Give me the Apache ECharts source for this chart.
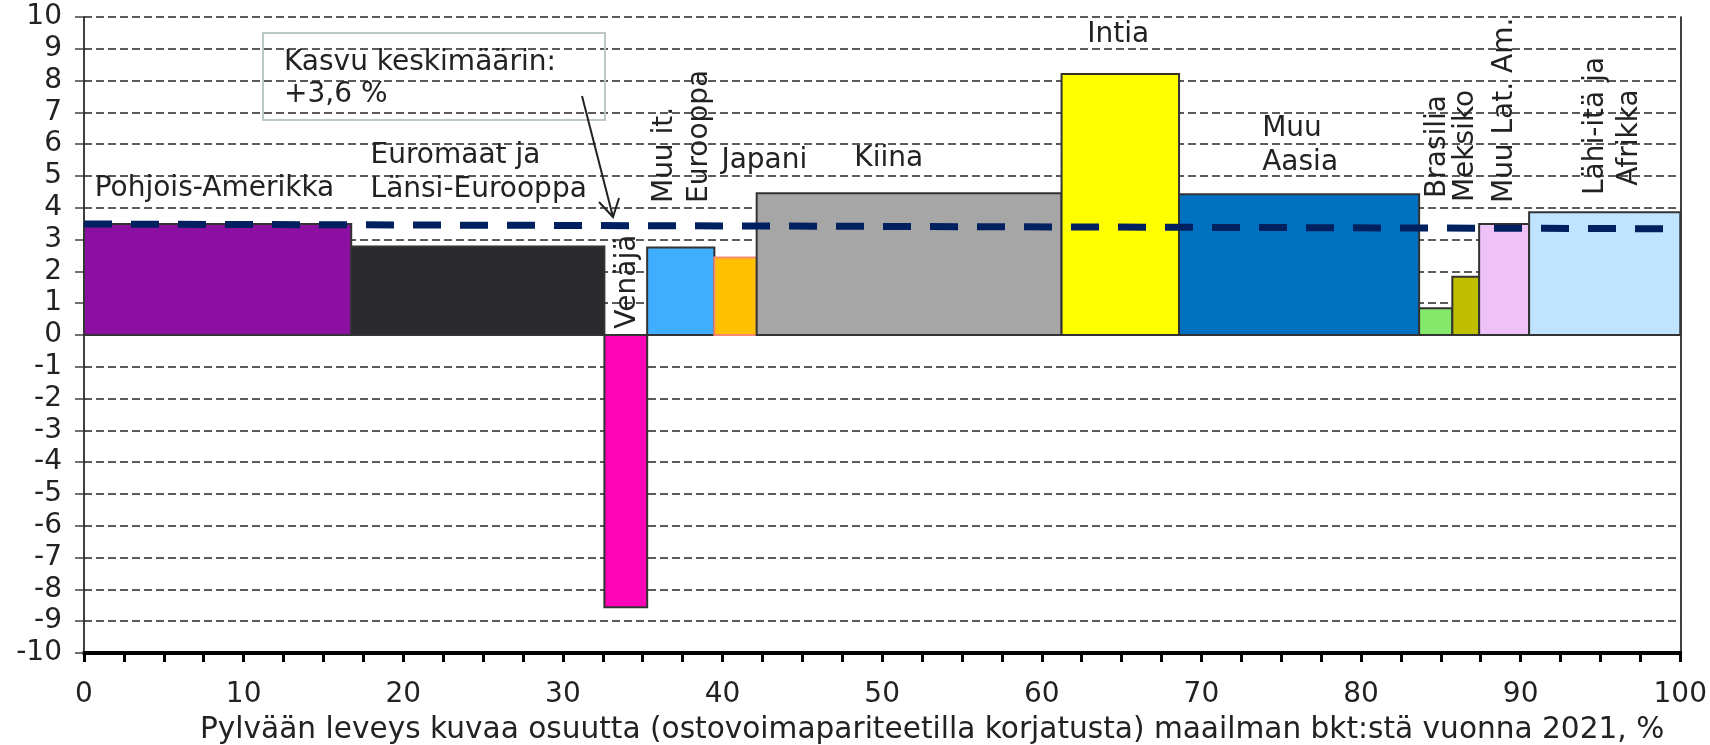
<!DOCTYPE html>
<html>
<head>
<meta charset="utf-8">
<script src="https://cdn.jsdelivr.net/npm/echarts@6/dist/echarts.min.js"></script>
<style>
  html, body { margin: 0; padding: 0; background: #fff; }
  #chart { width: 1710px; height: 745px; }
</style>
</head>
<body>
<div id="chart"></div>
<script>
// alueet, osuus maailman bkt:stä (%) ja kasvu (%)
const regions = ['Pohjois-Amerikka', 'Euromaat ja Länsi-Eurooppa', 'Venäjä', 'Muu it. Eurooppa', 'Japani', 'Kiina',
  'Intia', 'Muu Aasia', 'Brasilia', 'Meksiko', 'Muu Lat. Am.', 'Lähi-itä ja Afrikka'];
const shares = [16.74, 15.86, 2.68, 4.21, 2.65, 19.10, 7.36, 15.04, 2.08, 1.68, 3.13, 9.47];
const growth = [3.49, 2.78, -8.56, 2.75, 2.44, 4.46, 8.21, 4.43, 0.84, 1.83, 3.49, 3.86];
const fills = ['#8B10A1', '#2A2A2F', '#FF05B8', '#40AEFF', '#FFC000', '#A6A6A6',
  '#FFFF00', '#0070C0', '#86E86A', '#BFBF00', '#EEC2F7', '#C0E4FF'];
const strokes = ['#333', '#333', '#333', '#333', '#F6896F', '#333', '#333', '#333', '#333', '#333', '#333', '#333'];
// keskimääräinen kasvu (katkoviiva)
const avgLine = [[0, 3.49], [100, 3.34]];
const xTicks = [0, 10, 20, 30, 40, 50, 60, 70, 80, 90, 100];

// leveät pylväät: [alku, loppu, arvo]
let acc = 0;
const bars = shares.map((w, i) => {
  const row = [acc, acc + w, growth[i]];
  acc += w;
  return row;
});

// tekstien paikat (datakoordinaateissa)
const labelLayout = [
  ['Pohjois-Amerikka', 0.67, 4.59, 0],
  ['Euromaat ja', 17.95, 5.63, 0],
  ['Länsi-Eurooppa', 17.95, 4.56, 0],
  ['Japani', 39.93, 5.47, 0],
  ['Kiina', 48.26, 5.53, 0],
  ['Intia', 62.85, 9.45, 0],
  ['Muu', 73.81, 6.48, 0],
  ['Aasia', 73.81, 5.41, 0],
  ['Venäjä', 34.05, 0.2, 1],
  ['Muu it.', 36.36, 4.15, 1],
  ['Eurooppa', 38.55, 4.15, 1],
  ['Brasilia', 84.83, 4.31, 1],
  ['Meksiko', 86.58, 4.18, 1],
  ['Muu Lat. Am.', 89.02, 4.15, 1],
  ['Lähi-itä ja', 94.72, 4.40, 1],
  ['Afrikka', 96.85, 4.69, 1]
];

const FONT = '"DejaVu Sans", Verdana, sans-serif';
const chart = echarts.init(document.getElementById('chart'));

chart.setOption({
  animation: false,
  grid: { left: 84, right: 29, top: 17, bottom: 92 },
  xAxis: {
    type: 'value',
    min: 0,
    max: 100,
    interval: 2.5,
    axisLine: { onZero: false, lineStyle: { color: '#000', width: 4 } },
    axisTick: { length: 9, lineStyle: { color: '#000', width: 3 } },
    axisLabel: {
      margin: 28,
      fontFamily: FONT,
      fontSize: 28,
      color: '#222',
      formatter: v => (xTicks.indexOf(Math.round(v * 10) / 10) >= 0 ? String(v) : '')
    },
    splitLine: { show: false }
  },
  yAxis: [{
    type: 'value',
    min: -10,
    max: 10,
    interval: 1,
    axisLine: { show: true, lineStyle: { color: '#000', width: 1.5 } },
    axisTick: { show: true, length: 9, lineStyle: { color: '#444', width: 1.5 } },
    axisLabel: { margin: 22, fontFamily: FONT, fontSize: 28, color: '#222' },
    splitLine: { lineStyle: { color: '#5a5a5a', width: 2, type: [8, 4] } }
  }, {
    type: 'value',
    min: -10,
    max: 10,
    position: 'right',
    axisLine: { show: true, lineStyle: { color: '#000', width: 1.5 } },
    axisTick: { show: false },
    axisLabel: { show: false },
    splitLine: { show: false }
  }],
  series: [
    {
      type: 'custom',
      name: 'kasvu',
      data: bars,
      encode: { x: [0, 1], y: 2 },
      renderItem: function (params, api) {
        const p0 = api.coord([api.value(0), 0]);
        const p1 = api.coord([api.value(1), api.value(2)]);
        const i = params.dataIndex;
        return {
          type: 'rect',
          shape: {
            x: p0[0],
            y: Math.min(p0[1], p1[1]),
            width: p1[0] - p0[0],
            height: Math.abs(p1[1] - p0[1])
          },
          style: { fill: fills[i], stroke: strokes[i], lineWidth: 2 }
        };
      },
      z: 2
    },
    {
      type: 'line',
      name: 'keskimäärin',
      data: avgLine,
      symbol: 'none',
      lineStyle: { color: '#002060', width: 7, type: [28, 19], cap: 'butt' },
      z: 3
    },
    {
      type: 'custom',
      name: 'nimet',
      silent: true,
      data: labelLayout.map(l => [l[1], l[2]]),
      renderItem: function (params, api) {
        const l = labelLayout[params.dataIndex];
        const p = api.coord([l[1], l[2]]);
        return {
          type: 'text',
          x: p[0],
          y: p[1],
          rotation: l[3] ? Math.PI / 2 : 0,
          style: {
            text: l[0],
            fill: '#222',
            font: '28px ' + FONT,
            align: 'left',
            verticalAlign: 'middle'
          }
        };
      },
      z: 4
    }
  ],
  graphic: [
    {
      type: 'rect',
      shape: { x: 263, y: 33, width: 342, height: 87 },
      style: { fill: 'transparent', stroke: '#BCC8C4', lineWidth: 2 },
      z: 5
    },
    {
      type: 'text',
      x: 284, y: 63,
      style: { text: 'Kasvu keskimäärin:', font: '28px ' + FONT, fill: '#222', verticalAlign: 'middle' },
      z: 5
    },
    {
      type: 'text',
      x: 284, y: 95,
      style: { text: '+3,6 %', font: '28px ' + FONT, fill: '#222', verticalAlign: 'middle' },
      z: 5
    },
    {
      type: 'line',
      shape: { x1: 582, y1: 96, x2: 613, y2: 217 },
      style: { stroke: '#222', lineWidth: 2 },
      z: 5
    },
    {
      type: 'polyline',
      shape: { points: [[599, 202], [613, 217], [619, 198]] },
      style: { stroke: '#222', lineWidth: 2, fill: null },
      z: 5
    },
    {
      type: 'text',
      x: 200, y: 730,
      style: {
        text: 'Pylvään leveys kuvaa osuutta (ostovoimapariteetilla korjatusta) maailman bkt:stä vuonna 2021, %',
        font: '29.6px ' + FONT, fill: '#222', verticalAlign: 'middle'
      }
    }
  ]
});
</script>
</body>
</html>
